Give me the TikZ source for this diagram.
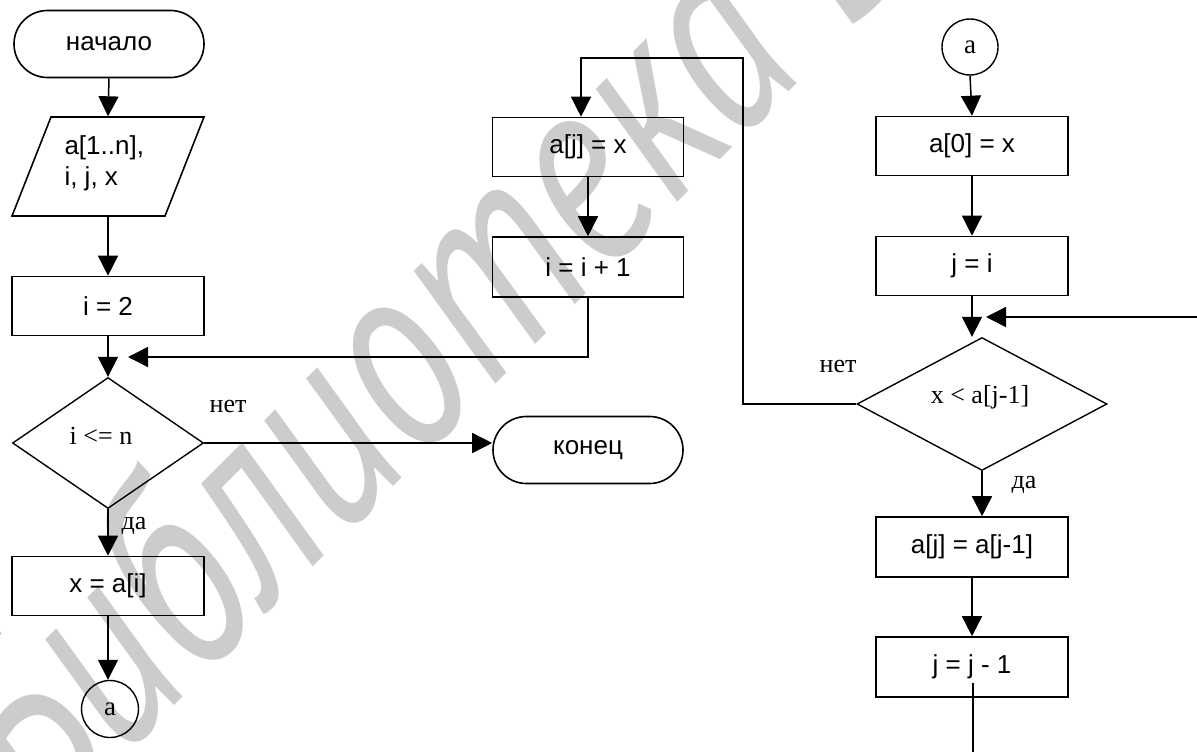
\documentclass[tikz,border=0pt]{standalone}
\usepackage{fontspec}
\setmainfont{Liberation Serif}
\newfontfamily\arialf{Liberation Sans}
\newfontfamily\wmfont{PT Sans}
\usetikzlibrary{shapes.geometric,shapes.misc,arrows.meta}
\begin{document}
\begin{tikzpicture}[x=1pt,y=-1pt,
  box/.style={draw, line width=1.6pt, minimum width=192pt, minimum height=59pt, inner sep=0pt, font=\arialf\fontsize{26}{31}\selectfont},
  term/.style={rounded rectangle, draw, line width=1.6pt, minimum width=190pt, minimum height=67pt, inner sep=0pt, font=\arialf\fontsize{26}{31}\selectfont},
  dec/.style={diamond, draw, line width=1.4pt, inner sep=0pt, font=\fontsize{26}{31}\selectfont},
  conn/.style={circle, draw, line width=1.4pt, inner sep=0pt, minimum size=57pt, font=\fontsize{27}{31}\selectfont},
  flow/.style={line width=1.5pt, -{Triangle[length=20pt,width=20pt]}},
  plain/.style={line width=1.5pt},
  lbl/.style={font=\fontsize{26}{31}\selectfont},
  wm/.style={text=black!20, font=\wmfont\itshape\fontsize{275}{275}\selectfont}
]
\useasboundingbox (0,0) rectangle (1197,752);
% watermark
\node[wm, rotate=45, xscale=0.76, anchor=base west, inner sep=0pt] (wmark) at (45,835) {Библиотека БГУИР};

% left column
\node[term] (start) at (109,44) {начало};
\node[minimum width=153pt, minimum height=99pt, inner sep=0pt] (inp) at (108,166) {};
\draw[line width=1.6pt] (51,117) -- (204,117) -- (165,216) -- (12,216) -- cycle;
\node[align=left, anchor=west, font=\arialf\fontsize{26}{31}\selectfont] (inptxt) at (61,163) {a[1..n],\\i, j, x};
\node[box] (i2) at (108,306) {i = 2};
\node[dec, minimum width=191pt, minimum height=131pt] (d1) at (108,443) {};
\node[lbl] (d1txt) at (101,436) {i <= n};
\node[box] (xa) at (108,586) {x = a[i]};
\node[conn] (c1) at (110,709) {a};
\node[term] (konec) at (588,450) {конец};
\node[lbl] (net1) at (228,406) {нет};
\node[lbl] (da1) at (134,526) {да};

% middle column
\node[box, minimum width=191pt] (aj) at (588,147) {a[j] = x};
\node[box, minimum width=191pt, minimum height=60pt] (ii) at (588,267) {i = i + 1};

% right column
\node[conn, minimum size=56pt] (c2) at (970,47) {a};
\node[box] (a0) at (972,146) {a[0] = x};
\node[box] (ji) at (972,266) {j = i};
\node[dec, minimum width=250pt, minimum height=133pt] (d2) at (982,404) {};
\node[lbl] (d2txt) at (980,397) {x < a[j-1]};
\node[box, minimum height=60pt] (ajj) at (972,547) {a[j] = a[j-1]};
\node[box, minimum height=60pt] (jj) at (972,667) {j = j - 1};
\node[lbl] (net2) at (838,366) {нет};
\node[lbl] (da2) at (1024,485) {да};

% coordinates
\coordinate (tip1) at (128,357);
\coordinate (n1) at (743,58);
\coordinate (rin) at (1197,317);
\coordinate (rtip) at (986,317);
\coordinate (jjs) at (973,683);
\coordinate (bot) at (973,752);

% connectors
\draw[flow] (start.south) -- (inp.north);
\draw[flow] (inp.south) -- (i2.north);
\draw[flow] (i2.south) -- (d1.north);
\draw[flow] (ii.south) |- (tip1);
\draw[flow] (d1.east) -- (d1.east -| konec.west);
\draw[flow] (d1.south) -- (xa.north);
\draw[flow] (xa.south) -- (c1.north -| xa.south);
\draw[flow] (aj.south) -- (ii.north);
\draw[flow] (c2.south) -- (a0.north);
\draw[flow] (a0.south) -- (ji.north);
\draw[flow] (ji.south) -- (d2.north -| ji.south);
\draw[flow] (rin) -- (rtip);
\draw[flow] (d2.west) -| (n1) -| ([xshift=-7pt]aj.north);
\draw[flow] (d2.south) -- (d2.south |- ajj.north);
\draw[flow] (ajj.south) -- (jj.north);
\draw[plain] (jjs) -- (bot);
\end{tikzpicture}
\end{document}
